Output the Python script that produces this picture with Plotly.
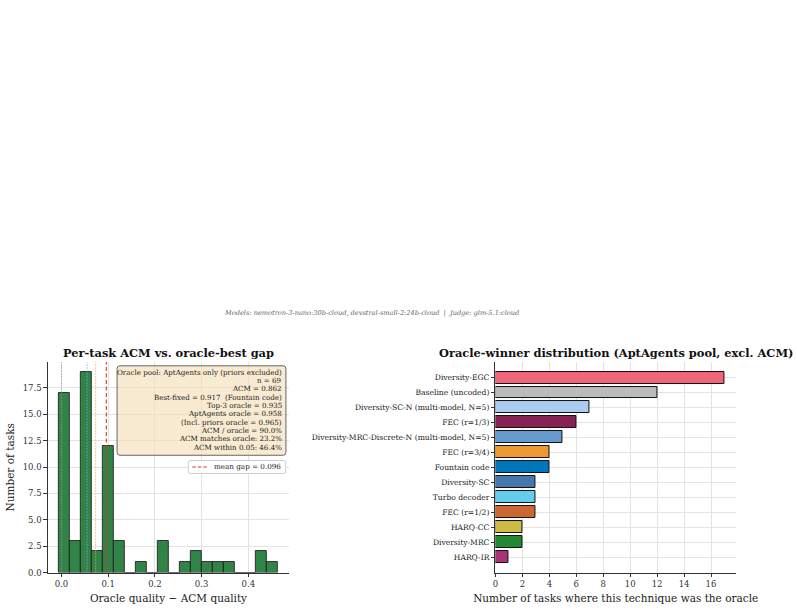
import numpy as np
import plotly.graph_objects as go

# ---------------- data ----------------
hist_counts = [17, 3, 19, 2, 12, 3, 0, 1, 0, 3, 0, 1, 2, 1, 1, 1, 0, 0, 2, 1]
hist_min = -0.0057
hist_max = 0.464

gap_match = 0.0          # ACM matches oracle
gap_bestfixed = 0.055    # best-fixed vs ACM
gap_top3 = 0.073         # top-3 oracle vs ACM
gap_mean = 0.096         # mean gap

stats_lines = [
    "Oracle pool: AptAgents only (priors excluded)",
    "n = 69",
    "ACM = 0.862",
    "Best-fixed = 0.917  (Fountain code)",
    "Top-3 oracle = 0.935",
    "AptAgents oracle = 0.958",
    "(Incl. priors oracle = 0.965)",
    "ACM / oracle = 90.0%",
    "ACM matches oracle: 23.2%",
    "ACM within 0.05: 46.4%",
]

techniques = [
    "Diversity-EGC", "Baseline (uncoded)", "Diversity-SC-N (multi-model, N=5)",
    "FEC (r=1/3)", "Diversity-MRC-Discrete-N (multi-model, N=5)", "FEC (r=3/4)",
    "Fountain code", "Diversity-SC", "Turbo decoder", "FEC (r=1/2)",
    "HARQ-CC", "Diversity-MRC", "HARQ-IR",
]
wins = [17, 12, 7, 6, 5, 4, 4, 3, 3, 3, 2, 2, 1]
tech_colors = [
    "#EE6677", "#BBBBBB", "#AACCEE", "#882255", "#6699CC", "#EE9933",
    "#0077BB", "#4477AA", "#66CCEE", "#CC6633", "#CCBB44", "#228833", "#AA3377",
]

subtitle = "Models: nemotron-3-nano:30b-cloud, devstral-small-2:24b-cloud  |  Judge: glm-5.1:cloud"

# ---------------- figure ----------------
W, H = 797, 613
FONT = "DejaVu Serif"
fig = go.Figure()


def px(x):
    return x / W


def py(y):
    return (H - y) / H


edges = np.linspace(hist_min, hist_max, len(hist_counts) + 1)
centers = (edges[:-1] + edges[1:]) / 2
bw = edges[1] - edges[0]

fig.add_trace(go.Bar(
    x=centers, y=hist_counts, width=bw,
    marker=dict(color="rgba(34,122,58,0.93)", line=dict(color="rgba(30,30,30,0.85)", width=1)),
    xaxis="x", yaxis="y", showlegend=False, hoverinfo="x+y",
))

RED = "#D03A1E"
ymax_l = max(hist_counts) * 1.05
for val, col, dash, width in [
    (gap_match, "#999999", "1.2px,1.8px", 1.0),
    (gap_bestfixed, "#5FB0E6", "1.2px,1.8px", 1.2),
    (gap_top3, "#F5A040", "1.2px,1.8px", 1.2),
    (gap_mean, RED, "4px,2.5px", 1.1),
]:
    fig.add_trace(go.Scatter(
        x=[val, val], y=[0, ymax_l], mode="lines",
        line=dict(color=col, dash=dash, width=width),
        xaxis="x", yaxis="y", showlegend=False,
    ))

fig.add_trace(go.Bar(
    y=techniques, x=wins, orientation="h", width=0.8,
    marker=dict(color=tech_colors, line=dict(color="#111111", width=1)),
    xaxis="x2", yaxis="y2", showlegend=False,
))

axis_common = dict(
    showline=True, linecolor="#333333", linewidth=1, mirror=False,
    ticks="outside", ticklen=3.5, tickcolor="#333333", tickwidth=0.8,
    showgrid=True, gridcolor="#E3E3E3", gridwidth=1, zeroline=False,
    tickfont=dict(family=FONT, size=8.5, color="#333333"),
)

xd_l = [45 / W, 287.3 / W]
xd_r = [494.3 / W, 735.7 / W]
yd = [(H - 577.3) / H, (H - 365) / H]

fig.update_layout(
    width=W, height=H,
    margin=dict(l=0, r=0, t=0, b=0),
    paper_bgcolor="white", plot_bgcolor="white",
    font=dict(family=FONT, color="#222222"),
    bargap=0, showlegend=False,
    xaxis=dict(axis_common, domain=xd_l, anchor="y",
               range=[hist_min - 0.05 * (hist_max - hist_min), hist_max + 0.05 * (hist_max - hist_min)],
               tickvals=[0, 0.1, 0.2, 0.3, 0.4], tickformat=".1f",
               title=dict(text="Oracle quality − ACM quality", font=dict(family=FONT, size=10.5), standoff=6)),
    yaxis=dict(axis_common, domain=yd, anchor="x", range=[0, ymax_l],
               tickvals=[0, 2.5, 5, 7.5, 10, 12.5, 15, 17.5], tickformat=".1f",
               title=dict(text="Number of tasks", font=dict(family=FONT, size=10.5), standoff=6)),
    xaxis2=dict(axis_common, domain=xd_r, anchor="y2", range=[0, max(wins) * 1.05],
                tickvals=list(range(0, 17, 2)),
                title=dict(text="Number of tasks where this technique was the oracle",
                           font=dict(family=FONT, size=10.5), standoff=6)),
    yaxis2=dict(axis_common, domain=yd, anchor="x2", autorange=False,
                range=[len(techniques) - 1 + 1.04, -1.04],
                tickfont=dict(family=FONT, size=7.6, color="#222222")),
)


def rounded_rect(x0, y0, x1, y1, r):
    # pixel coords (y down) -> paper path
    pts = []
    P = lambda x, y: f"{px(x):.5f},{py(y):.5f}"
    return (f"M {P(x0 + r, y0)} L {P(x1 - r, y0)} Q {P(x1, y0)} {P(x1, y0 + r)} "
            f"L {P(x1, y1 - r)} Q {P(x1, y1)} {P(x1 - r, y1)} "
            f"L {P(x0 + r, y1)} Q {P(x0, y1)} {P(x0, y1 - r)} "
            f"L {P(x0, y0 + r)} Q {P(x0, y0)} {P(x0 + r, y0)} Z")


# stats box
fig.add_shape(type="path", xref="paper", yref="paper",
              path=rounded_rect(114.5, 368.8, 284, 459, 3),
              fillcolor="rgba(245,222,179,0.6)", line=dict(color="#666666", width=1))
line_top, line_step = 375.3, 8.38
for i, ln in enumerate(stats_lines):
    fig.add_annotation(
        text=ln, xref="paper", yref="paper",
        x=px(282.3), y=py(line_top + i * line_step), xanchor="right", yanchor="middle",
        showarrow=False, font=dict(family=FONT, size=7.1, color="#222222"),
    )

# legend box (compact, matplotlib-like)
fig.add_shape(type="path", xref="paper", yref="paper",
              path=rounded_rect(186, 464.3, 283.7, 477.3, 2),
              fillcolor="white", line=dict(color="#CCCCCC", width=1))
fig.add_shape(type="line", xref="paper", yref="paper",
              x0=px(190), x1=px(206), y0=py(470.8), y1=py(470.8),
              line=dict(color=RED, width=1.1, dash="3.5px,2px"))
fig.add_annotation(
    text=f"mean gap = {gap_mean:.3f}", xref="paper", yref="paper",
    x=px(210), y=py(470.8), xanchor="left", yanchor="middle", showarrow=False,
    font=dict(family=FONT, size=7.2, color="#222222"),
)

fig.add_annotation(
    text="<b>Per-task ACM vs. oracle-best gap</b>", xref="paper", yref="paper",
    x=(xd_l[0] + xd_l[1]) / 2, y=py(355.7), showarrow=False,
    font=dict(family=FONT, size=11.4, color="#111111"), xanchor="center", yanchor="middle",
)
fig.add_annotation(
    text="<b>Oracle-winner distribution (AptAgents pool, excl. ACM)</b>", xref="paper", yref="paper",
    x=(xd_r[0] + xd_r[1]) / 2, y=py(355.7), showarrow=False,
    font=dict(family=FONT, size=11.4, color="#111111"), xanchor="center", yanchor="middle",
)
fig.add_annotation(
    text="<i>" + subtitle + "</i>", xref="paper", yref="paper",
    x=px(370), y=py(316), showarrow=False,
    font=dict(family=FONT, size=6.6, color="#666666"), xanchor="center", yanchor="middle",
)

fig.write_html("out.html")
